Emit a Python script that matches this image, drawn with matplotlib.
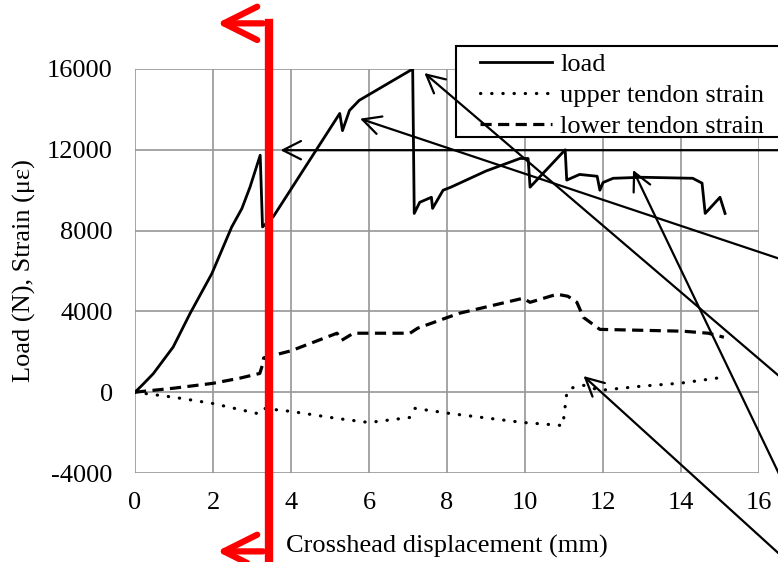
import matplotlib
matplotlib.use('Agg')
import matplotlib.pyplot as plt
from matplotlib.patches import Rectangle

plt.rcParams['font.family'] = ['Liberation Serif', 'DejaVu Serif']
plt.rcParams['axes.unicode_minus'] = False

# load curve (N)
load_x = [0, 0.2, 0.47, 0.98, 1.41, 1.97, 2.48, 2.74, 2.95, 3.21, 3.27, 3.55, 5.25, 5.32, 5.5, 5.75,
          7.12, 7.16, 7.3, 7.6, 7.63, 7.9, 8.1, 9.0, 9.87, 10.08, 10.13, 11.03, 11.07,
          11.4, 11.85, 11.92, 12.0, 12.26, 13.0, 14.3, 14.54, 14.62, 15.0, 15.13]
load_y = [0, 380, 920, 2240, 3890, 5870, 8180, 9090, 10160, 11730, 8180, 8700, 13800, 12950, 13950, 14450,
          16000, 8850, 9400, 9650, 9100, 10000, 10150, 10950, 11570, 11570, 10150, 12000, 10500,
          10780, 10690, 10000, 10380, 10590, 10640, 10590, 10350, 8850, 9650, 8850]

# upper tendon strain (microstrain)
upper_x = [0, 1, 2, 3.15, 3.29, 4, 5.18, 6.0, 7.05, 7.18, 8.1, 9.95, 10.97, 11.07,
           11.15, 11.5, 11.92, 13, 14, 15.08]
upper_y = [0, -250, -560, -1060, -800, -950, -1300, -1500, -1250, -800, -1060, -1500, -1650, -60,
           190, 340, 90, 300, 450, 740]

# lower tendon strain (microstrain)
lower_x = [0, 1, 2, 2.7, 3.2, 3.26, 3.3, 4, 5.18, 5.3, 5.6, 7.05, 7.25, 8.3, 9.95, 10.13,
           10.82, 11.1, 11.33, 11.5, 11.92, 14.05, 14.7, 15.1]
lower_y = [0, 200, 440, 700, 930, 1300, 1700, 2050, 2920, 2570, 2920, 2920, 3170, 3900, 4650, 4450,
           4850, 4750, 4450, 3700, 3110, 3020, 2920, 2720]

xticks = [0, 2, 4, 6, 8, 10, 12, 14, 16]
yticks = [-4000, 0, 4000, 8000, 12000, 16000]

# black arrows: (tip x, tip y), (tail x, tail y)
arrow_tips = [(3.73, 11980), (5.77, 13540), (7.42, 15800), (12.77, 11000), (11.5, 800)]
arrow_tails = [(17, 11980), (17, 6300), (17, 0), (17, -6000), (17, -8850)]

red_x = 3.44

fig = plt.figure(figsize=(7.78, 5.62), dpi=100)
ax = fig.add_axes([135/778, 89/562, 624/778, 404/562])

ax.plot(load_x, load_y, color='black', lw=2, label='load')
ax.plot(upper_x, upper_y, color='black', lw=2.3, linestyle=(0, (0.1, 3.4)),
        dash_capstyle='round', label='upper tendon strain')
ax.plot(lower_x, lower_y, color='black', lw=2.3, linestyle=(0, (3.5, 2)),
        label='lower tendon strain')

ax.set_xlim(0, 16)
ax.set_ylim(-4000, 16000)
ax.set_xticks(xticks)
ax.set_yticks(yticks)
ax.grid(True, color='#969696', lw=1.2)
ax.set_axisbelow(True)
for s in ax.spines.values():
    s.set_visible(False)
ax.tick_params(length=0, labelsize=19)
ax.tick_params(axis='y', pad=16)
ax.tick_params(axis='x', pad=14)
ax.set_xlabel('Crosshead displacement (mm)', fontsize=19, labelpad=15)
ax.set_ylabel('Load (N), Strain (με)', fontsize=19, labelpad=8)

# legend frame drawn by hand, it runs off the right edge
ax.add_patch(Rectangle((456/778, 1 - 137/562), 340/778, 91/562,
                       transform=fig.transFigure, facecolor='white',
                       edgecolor='black', lw=1.5, zorder=4, clip_on=False))
leg = ax.legend(loc='upper left', bbox_to_anchor=(477/778, 1 - 50/562),
                bbox_transform=fig.transFigure, fontsize=19, frameon=False,
                handlelength=2.75, handletextpad=0.3,
                labelspacing=0.28, borderpad=0.1, borderaxespad=0)
leg.set_zorder(5)

# red marker line with arrows
ax.plot([red_x, red_x], [18260, -9000], color='red', lw=6, clip_on=False, zorder=6)
for yy in [18260, -7880]:
    ax.annotate('', xy=(2.1, yy), xytext=(3.28, yy), annotation_clip=False,
                arrowprops=dict(arrowstyle='->,head_length=1.2,head_width=0.6',
                                mutation_scale=20, color='red', lw=4.5,
                                shrinkA=0, shrinkB=0, capstyle='round'), zorder=6)

for (tx, ty), (sx, sy) in zip(arrow_tips, arrow_tails):
    ax.annotate('', xy=(tx, ty), xytext=(sx, sy), annotation_clip=False,
                arrowprops=dict(arrowstyle='->,head_length=0.65,head_width=0.33',
                                mutation_scale=20, color='black', lw=1.6,
                                shrinkA=0, shrinkB=0), zorder=7)

fig.savefig('out.png', dpi=100)
